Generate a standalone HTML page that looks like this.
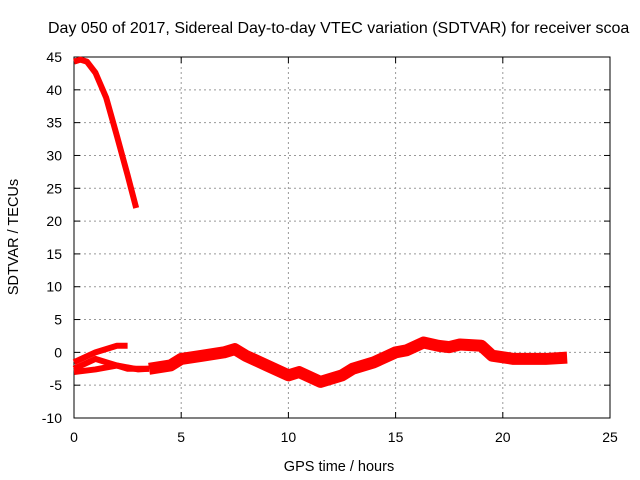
<!DOCTYPE html>
<html><head><meta charset="utf-8"><style>
body{margin:0;background:#fff;}
svg{display:block;font-family:"Liberation Sans",sans-serif;}
</style></head><body>
<svg id="chart" width="640" height="480" viewBox="0 0 640 480">
<text x="48" y="33" font-size="16">Day 050 of 2017, Sidereal Day-to-day VTEC variation (SDTVAR) for receiver scoa</text>
<g id="grid"></g>
<g id="axes"></g>
<g id="series"></g>
<text x="339" y="471" font-size="14.5" text-anchor="middle">GPS time / hours</text>
<text transform="translate(18,237) rotate(-90)" font-size="14.5" text-anchor="middle">SDTVAR / TECUs</text>
</svg>
<script>
const xTicks=[0,5,10,15,20,25];
const yTicks=[-10,-5,0,5,10,15,20,25,30,35,40,45];
const topHours=[0,0.3,0.6,1,1.5,2,2.5,2.9];
const topVals=[44.3,44.6,44.3,42.6,38.8,33,27,22];
const mainHours=[3.5,4.5,5,6,7,7.5,8,9,10,10.5,11.5,12.5,13,14,15,15.5,16.3,17,17.5,18,19,19.5,20.5,21,22,23];
const mainVals=[-2.5,-2,-1,-0.5,0,0.5,-0.5,-2,-3.5,-3,-4.5,-3.5,-2.5,-1.5,0,0.3,1.5,1,0.8,1.2,1,-0.5,-1,-1,-1,-0.8];
const aHours=[0,1,2,2.5];
const aVals=[-1.5,0,1,1];
const bHours=[0,1,2,3,3.5];
const bVals=[-3,-2.6,-2,-2.6,-2.5];
const cHours=[0,1,1.5,2.5,3.5];
const cVals=[-2.5,-1,-1.5,-2.5,-2.5];
const X0=74,X1=610,Y0=418,Y1=57;
const xs=h=>X0+(h-0)/25*(X1-X0);
const ys=v=>Y0-(v+10)/55*(Y0-Y1);
const NS="http://www.w3.org/2000/svg";
function mk(t,p,a){const e=document.createElementNS(NS,t);for(const k in a)e.setAttribute(k,a[k]);p.appendChild(e);return e;}
const grid=document.getElementById('grid'),axes=document.getElementById('axes'),ser=document.getElementById('series');
xTicks.forEach(t=>{
 if(t>0&&t<25){const l=mk('line',grid,{x1:xs(t),x2:xs(t),y1:Y1,y2:Y0,stroke:'#999','stroke-dasharray':'2,3'});
 
 }
 const tx=mk('text',axes,{x:xs(t),y:Y0+24,'font-size':14,'text-anchor':'middle'});tx.textContent=t;
 
 
 mk('line',axes,{x1:xs(t),x2:xs(t),y1:Y0,y2:Y0-6,stroke:'#000'});
 mk('line',axes,{x1:xs(t),x2:xs(t),y1:Y1,y2:Y1+6,stroke:'#000'});
});
yTicks.forEach(t=>{
 if(t>-10&&t<45){const l=mk('line',grid,{x1:X0,x2:X1,y1:ys(t),y2:ys(t),stroke:'#999','stroke-dasharray':'2,3'});
 
 }
 const tx=mk('text',axes,{x:X0-12,y:ys(t)+5,'font-size':14,'text-anchor':'end'});tx.textContent=t;
 
 
 mk('line',axes,{x1:X0,x2:X0+6,y1:ys(t),y2:ys(t),stroke:'#000'});
 mk('line',axes,{x1:X1,x2:X1-6,y1:ys(t),y2:ys(t),stroke:'#000'});
});
mk('rect',axes,{x:X0,y:Y1,width:X1-X0,height:Y0-Y1,fill:'none',stroke:'#000'});
function line(hs,vs,w,name){
 const p=mk('polyline',ser,{points:hs.map((h,i)=>xs(h)+','+ys(vs[i])).join(' '),fill:'none',stroke:'#f00','stroke-width':w,'stroke-linejoin':'round'});
 
 
}
line(topHours,topVals,6,'series-early-high');
line(aHours,aVals,6,'series-early-a');
line(bHours,bVals,6,'series-early-b');
line(cHours,cVals,6,'series-early-c');
line(mainHours,mainVals,12,'series-main');
</script>
</body></html>
